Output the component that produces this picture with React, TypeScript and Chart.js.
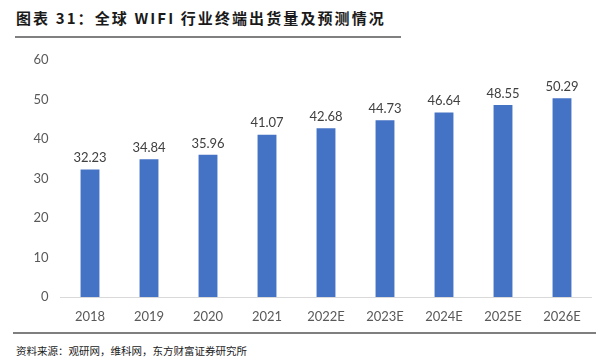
import React, { useEffect, useRef } from "react";
import { Chart, registerables } from "chart.js";

Chart.register(...registerables);

const categories = ["2018", "2019", "2020", "2021", "2022E", "2023E", "2024E", "2025E", "2026E"];
const shipments = [32.23, 34.84, 35.96, 41.07, 42.68, 44.73, 46.64, 48.55, 50.29];
const titleText = "图表 31：全球 WIFI 行业终端出货量及预测情况";
const sourceText = "资料来源：观研网，维科网，东方财富证券研究所";

const labelPlugin = {
  id: "valueLabels",
  afterDatasetsDraw(chart: any) {
    const ctx = chart.ctx;
    const meta = chart.getDatasetMeta(0);
    ctx.save();
    ctx.font = "13px Lato, 'Liberation Sans', sans-serif";
    ctx.fillStyle = "#404040";
    ctx.textAlign = "center";
    ctx.textBaseline = "bottom";
    meta.data.forEach((bar: any, i: number) => {
      ctx.fillText(shipments[i].toFixed(2), bar.x, bar.y - 5);
    });
    ctx.restore();
  },
};

export default function App() {
  const ref = useRef<HTMLCanvasElement>(null);
  useEffect(() => {
    document.body.style.margin = "0";
    const chart = new Chart(ref.current!, {
      type: "bar",
      data: {
        labels: categories,
        datasets: [
          {
            data: shipments,
            backgroundColor: "#4472C4",
            barPercentage: 0.4,
            categoryPercentage: 0.8,
          },
        ],
      },
      options: {
        animation: false,
        responsive: false,
        maintainAspectRatio: false,
        layout: { padding: { left: 0, right: 19.5, top: 12, bottom: 0 } },
        plugins: { legend: { display: false }, tooltip: { enabled: false } },
        scales: {
          x: {
            grid: { display: false, drawTicks: false },
            border: { color: "#D9D9D9", width: 1 },
            ticks: { color: "#595959", font: { family: "Lato, 'Liberation Sans', sans-serif", size: 13 }, padding: 12 },
            afterFit: (s: any) => { s.height = 28; },
          },
          y: {
            min: 0,
            max: 60,
            grid: { display: false, drawTicks: false },
            border: { display: false },
            ticks: { stepSize: 10, color: "#595959", font: { family: "Lato, 'Liberation Sans', sans-serif", size: 13 }, padding: 12 },
            afterFit: (s: any) => { s.width = 60.5; },
          },
        },
      },
      plugins: [labelPlugin],
    });
    return () => chart.destroy();
  }, []);

  return (
    <div style={{ position: "relative", width: 611, height: 364, background: "#fff", overflow: "hidden" }}>
      <div style={{ position: "absolute", left: 16, top: 7, fontFamily: "'Noto Sans CJK SC', sans-serif", fontWeight: 700, fontSize: 15, color: "#1a1a1a", lineHeight: "22px", letterSpacing: 2.1, whiteSpace: "nowrap" }}>{titleText}</div>
      <div style={{ position: "absolute", left: 15, top: 36, width: 386, height: 2, background: "#808080" }} />
      <canvas ref={ref} width={611} height={285} style={{ position: "absolute", left: 0, top: 40 }} />
      <div style={{ position: "absolute", left: 13, top: 332, width: 583, height: 1.5, background: "#7f7f7f" }} />
      <div style={{ position: "absolute", left: 16, top: 343, fontFamily: "'Noto Sans CJK SC', sans-serif", fontSize: 10.5, color: "#222", lineHeight: "16px", whiteSpace: "nowrap" }}>{sourceText}</div>
    </div>
  );
}
